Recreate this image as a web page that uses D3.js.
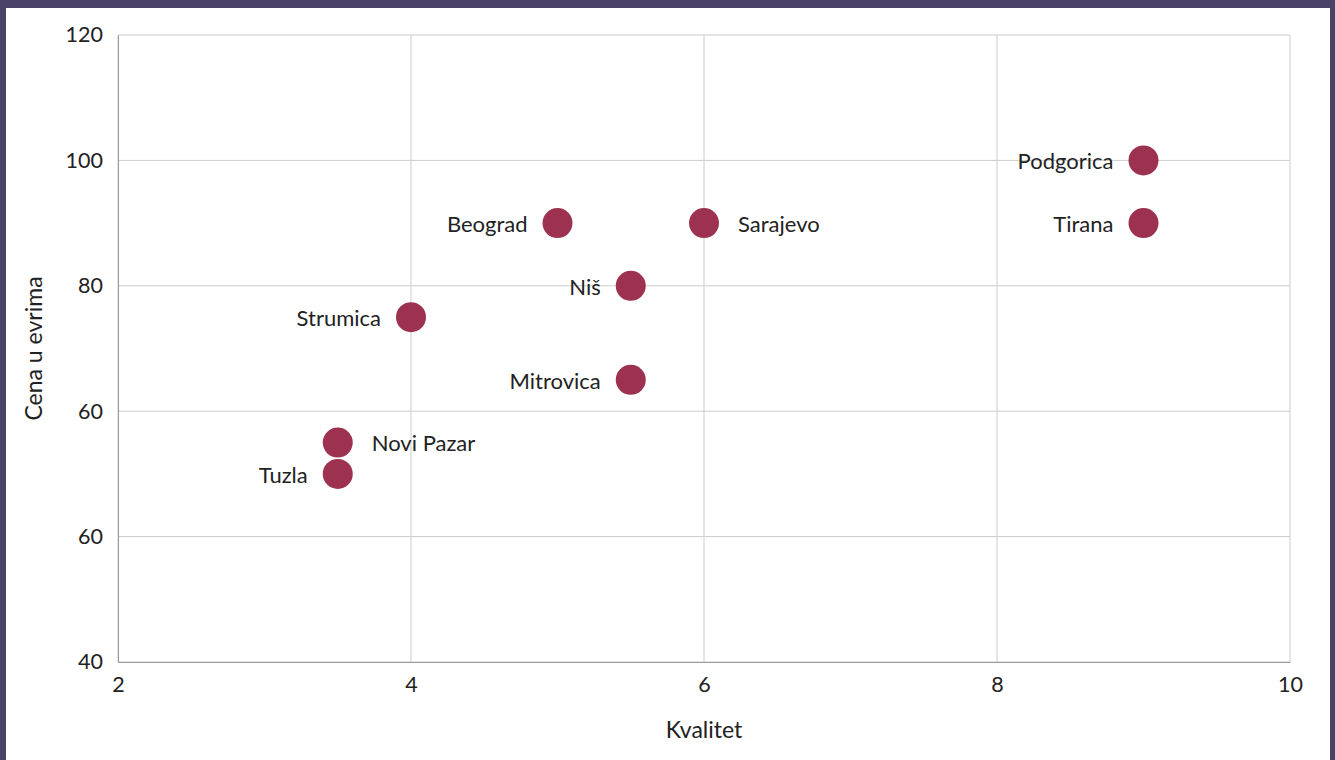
<!DOCTYPE html>
<html>
<head>
<meta charset="utf-8">
<script src="https://cdn.jsdelivr.net/npm/d3@7"></script>
<style>
  html, body { margin: 0; padding: 0; background: #4a4268; }
  #panel { position: absolute; left: 6px; top: 8px; width: 1324px; height: 752px; background: #fff; }
  text { font-family: Lato, "Open Sans", sans-serif; fill: #222; }
</style>
</head>
<body>
<div id="panel"><svg id="chart" width="1324" height="752"></svg></div>
<script>
// data
const cities = ["Podgorica", "Tirana", "Beograd", "Sarajevo", "Niš", "Strumica", "Mitrovica", "Novi Pazar", "Tuzla"];
const quality = [9, 9, 5, 6, 5.5, 4, 5.5, 3.5, 3.5];
const price = [100, 90, 90, 90, 80, 75, 65, 55, 50];
const labelSide = ["left", "left", "left", "right", "left", "left", "left", "right", "left"];
const xTicks = [2, 4, 6, 8, 10];
const yTicks = [20, 40, 60, 80, 100, 120];
const yTickLabels = ["40", "60", "60", "80", "100", "120"];

const svg = d3.select("#chart");
// panel is offset 6,8 inside page
const margin = { top: 27, right: 40, bottom: 98, left: 112 },
    width = 1324 - margin.left - margin.right,
    height = 752 - margin.top - margin.bottom;

const g = svg.append("g")
    .attr("transform", "translate(" + margin.left + "," + margin.top + ")");

const x = d3.scaleLinear().domain([2, 10]).range([0, width]);
const y = d3.scaleLinear().domain([20, 120]).range([height, 0]);

// grid
g.append("g").selectAll("line").data(xTicks).join("line")
    .attr("x1", d => x(d)).attr("x2", d => x(d))
    .attr("y1", 0).attr("y2", height)
    .attr("stroke", "#cccccc");
g.append("g").selectAll("line").data(yTicks).join("line")
    .attr("x1", 0).attr("x2", width)
    .attr("y1", d => y(d)).attr("y2", d => y(d))
    .attr("stroke", "#cccccc");

// axes
const xAxis = g.append("g")
    .attr("transform", "translate(0," + height + ")")
    .call(d3.axisBottom(x).tickValues(xTicks).tickSize(0).tickPadding(15));
const yAxis = g.append("g")
    .call(d3.axisLeft(y).tickValues(yTicks).tickSize(0).tickPadding(15)
        .tickFormat((d, i) => yTickLabels[i]));
[xAxis, yAxis].forEach(a => {
    a.select(".domain").attr("stroke", "#999999");
    a.selectAll("text").style("font-family", "Lato, sans-serif").style("font-size", "21.5px").attr("fill", "#222");
});

// axis titles
g.append("text")
    .attr("x", width / 2).attr("y", height + 76)
    .attr("text-anchor", "middle")
    .style("font-size", "23px")
    .text("Kvalitet");
g.append("text")
    .attr("transform", "translate(" + (-76) + "," + (height / 2) + ") rotate(-90)")
    .attr("text-anchor", "middle")
    .style("font-size", "23px")
    .text("Cena u evrima");

// points
const data = cities.map((c, i) => ({ name: c, q: quality[i], p: price[i], side: labelSide[i] }));
g.append("g").selectAll("circle").data(data).join("circle")
    .attr("cx", d => x(d.q)).attr("cy", d => y(d.p))
    .attr("r", 15)
    .attr("fill", "#9d3150");

g.append("g").selectAll("text").data(data).join("text")
    .attr("x", d => d.side === "left" ? x(d.q) - 30 : x(d.q) + 34)
    .attr("y", d => y(d.p) + 1)
    .attr("dy", "0.35em")
    .attr("text-anchor", d => d.side === "left" ? "end" : "start")
    .style("font-size", "22px")
    .text(d => d.name);
</script>
</body>
</html>
